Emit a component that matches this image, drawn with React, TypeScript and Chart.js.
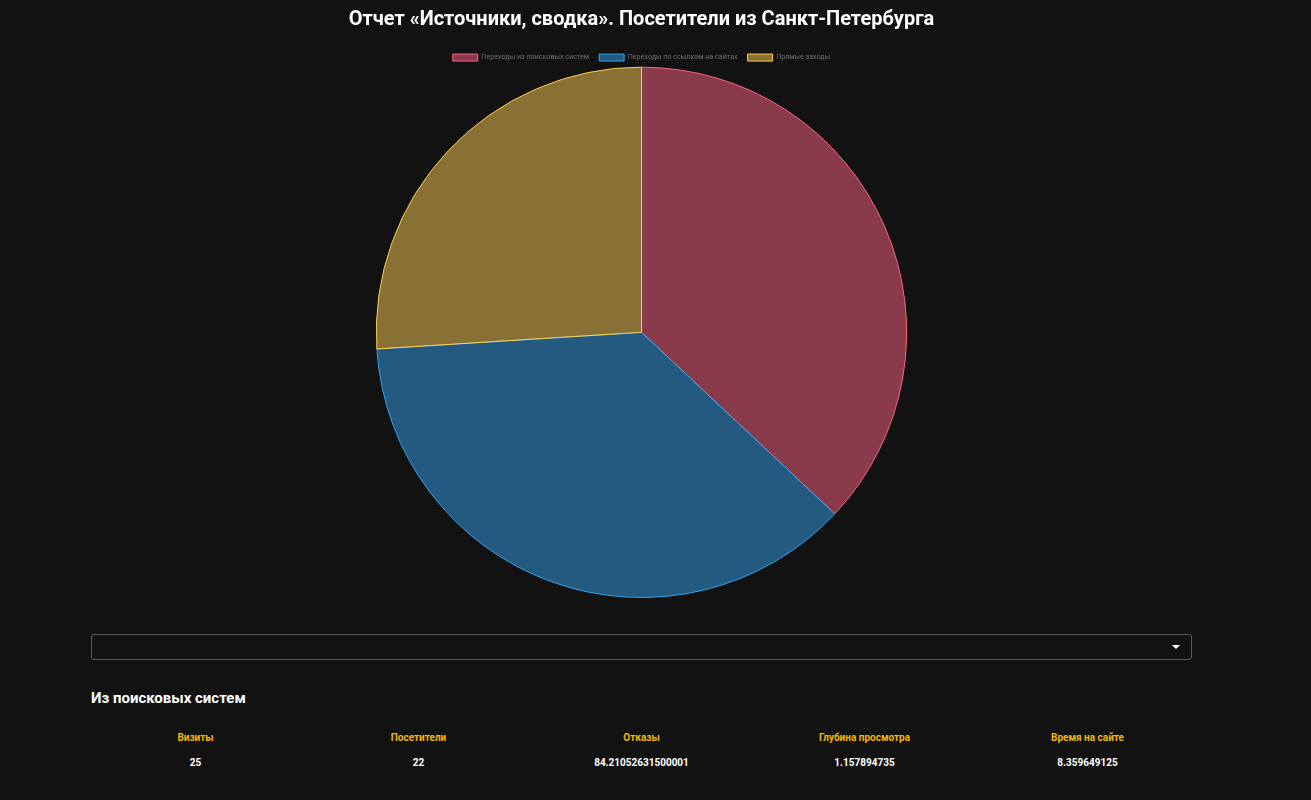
import React, { useEffect, useRef } from "react";
import { Chart, registerables } from "chart.js";

Chart.register(...registerables);

const TITLE = "Отчет «Источники, сводка». Посетители из Санкт-Петербурга";
const categories = ["Переходы из поисковых систем", "Переходы по ссылкам на сайтах", "Прямые заходы"];
const shares = [37, 37, 26];
const fills = ["rgba(255, 99, 132, 0.5)", "rgba(54, 162, 235, 0.5)", "rgba(255, 206, 86, 0.5)"];
const borders = ["rgb(255, 99, 132)", "rgb(54, 162, 235)", "rgb(255, 206, 86)"];

const sectionTitle = "Из поисковых систем";
const metricNames = ["Визиты", "Посетители", "Отказы", "Глубина просмотра", "Время на сайте"];
const metricValues = ["25", "22", "84.21052631500001", "1.157894735", "8.359649125"];

const legendTrim = {
  id: "legendTrim",
  beforeInit(chart: any) {
    const lg = chart.legend;
    if (lg && !lg.__trimmed) {
      const orig = lg.fit;
      lg.fit = function (this: any) {
        orig.call(this);
        this.height = this.height - 4.5;
      };
      lg.__trimmed = true;
    }
  },
};

export default function App() {
  const ref = useRef<HTMLCanvasElement | null>(null);
  useEffect(() => {
    document.body.style.margin = "0";
    document.body.style.background = "#121212";
    const chart = new Chart(ref.current!, {
      type: "pie",
      data: {
        labels: categories,
        datasets: [{ data: shares, backgroundColor: fills, borderColor: borders, borderWidth: 1 }],
      },
      plugins: [legendTrim],
      options: {
        animation: false,
        responsive: false,
        maintainAspectRatio: false,
        plugins: {
          title: {
            display: true,
            text: TITLE,
            color: "#ffffff",
            font: { family: "Roboto", size: 20, weight: "bold" },
            padding: { top: 8, bottom: 12 },
          },
          legend: {
            position: "top",
            labels: {
              color: "#6f6f6f",
              font: { family: "Roboto", size: 7.15 },
              boxWidth: 25,
              boxHeight: 7,
              padding: 10,
            },
          },
          tooltip: { enabled: false },
        },
      },
    });
    return () => chart.destroy();
  }, []);

  return (
    <div style={{ position: "relative", width: 1311, height: 800, background: "#121212", fontFamily: "Roboto, sans-serif", overflow: "hidden" }}>
      <canvas ref={ref} width={1267} height={598} style={{ position: "absolute", left: 8, top: 0, width: 1267, height: 598 }} />
      <div style={{ position: "absolute", left: 91, top: 634, width: 1099, height: 24, border: "1px solid #5a5a5a", borderRadius: 3, boxSizing: "content-box" }}>
        <div style={{ position: "absolute", right: 11, top: 10, width: 0, height: 0, borderLeft: "4px solid transparent", borderRight: "4px solid transparent", borderTop: "4px solid #ffffff" }} />
      </div>
      <div style={{ position: "absolute", left: 91, top: 689, color: "#ffffff", fontWeight: 700, fontSize: 15, lineHeight: "18px" }}>{sectionTitle}</div>
      <div style={{ position: "absolute", left: 84, top: 731, width: 1115, display: "flex" }}>
        {metricNames.map((n, i) => (
          <div key={n} style={{ flex: 1, textAlign: "center" }}>
            <div style={{ color: "#f2b705", fontWeight: 700, fontSize: 10, height: 14, lineHeight: "14px" }}>{n}</div>
            <div style={{ color: "#ffffff", fontWeight: 700, fontSize: 10, marginTop: 11, height: 14, lineHeight: "14px" }}>{metricValues[i]}</div>
          </div>
        ))}
      </div>
    </div>
  );
}
